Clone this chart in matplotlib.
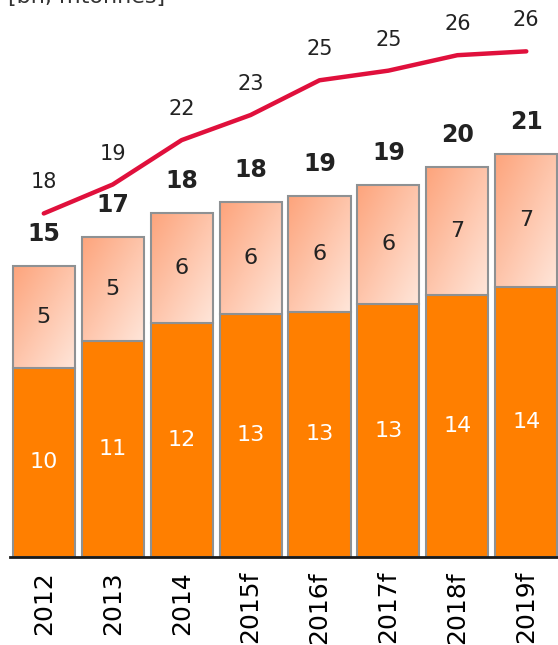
import matplotlib.pyplot as plt
import numpy as np
from matplotlib.colors import LinearSegmentedColormap

plt.rcParams['font.family'] = ['DejaVu Sans']

years = ['2012', '2013', '2014', '2015f', '2016f', '2017f', '2018f', '2019f']
bottom_vals = [9.8, 11.2, 12.1, 12.6, 12.7, 13.1, 13.6, 14.0]
top_vals = [5.3, 5.4, 5.7, 5.8, 6.0, 6.2, 6.6, 6.9]
line_vals = [17.8, 19.3, 21.6, 22.9, 24.7, 25.2, 26.0, 26.2]

orange = '#FF7F00'
edge = '#8E9193'
red = '#E0103C'

fig = plt.figure(figsize=(5.58, 6.45), dpi=100)
ax = fig.add_axes([10 / 558, 88 / 645, 1 - 10 / 558, 557 / 645])

x = np.arange(len(years))
w = 0.9
totals = [b + t for b, t in zip(bottom_vals, top_vals)]

ax.bar(x, bottom_vals, w, color=orange, edgecolor=edge, linewidth=1.5, zorder=2)
tops = ax.bar(x, top_vals, w, bottom=bottom_vals, color='none', edgecolor=edge,
              linewidth=1.5, zorder=3)

# gradient fill for the upper segment
cmap = LinearSegmentedColormap.from_list('peach', ['#FDA47C', '#FFE6DA'])
gx, gy = np.meshgrid(np.linspace(0, 1, 60), np.linspace(0, 1, 60))
grad = (gx + gy) / 2
for rect, xi, b, t in zip(tops, x, bottom_vals, top_vals):
    im = ax.imshow(grad, cmap=cmap, extent=[xi - w / 2, xi + w / 2, b, b + t],
                   origin='upper', aspect='auto', zorder=2.5)
    im.set_clip_path(rect)

for xi, b, t, tot in zip(x, bottom_vals, top_vals, totals):
    ax.text(xi, b / 2, f'{b:.0f}', ha='center', va='center', color='white', fontsize=16, zorder=5)
    ax.text(xi, b + t / 2, f'{t:.0f}', ha='center', va='center', color='#222222', fontsize=16, zorder=5)
    ax.text(xi, tot + 32 / 19.3, f'{tot:.0f}', ha='center', va='center', color='#222222',
            fontsize=17, fontweight='bold', zorder=5)

ax.plot(x, line_vals, color=red, linewidth=3.2, solid_capstyle='round', zorder=4)
for xi, v in zip(x, line_vals):
    ax.text(xi, v + 31 / 19.3, f'{v:.0f}', ha='center', va='center', color='#222222', fontsize=15, zorder=5)

ax.set_xlim(-0.49, 7.46)
ax.set_ylim(0, 557 / 19.3)
ax.set_xticks(x)
ax.set_xticklabels(years, rotation=90, fontsize=18)
ax.tick_params(axis='x', length=0, pad=10)
ax.set_yticks([])
for s in ['left', 'right', 'top']:
    ax.spines[s].set_visible(False)
ax.spines['bottom'].set_linewidth(2)
ax.spines['bottom'].set_color('#1a1a1a')

# unit label, cut off at the top edge like in the source
fig.text(8 / 558, 1 - 3 / 645, '[bn, mtonnes]', ha='left', va='baseline', fontsize=16, color='#333333')

fig.savefig('out.png', dpi=100)
